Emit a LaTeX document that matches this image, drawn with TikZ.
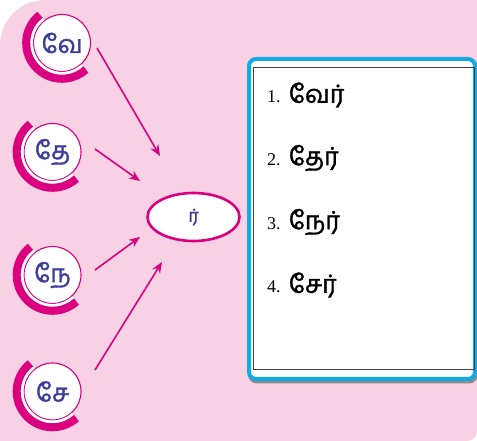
\documentclass[tikz,border=0pt]{standalone}
\usepackage{fontspec}
\setmainfont{Liberation Serif}
\newfontfamily\tamil[Script=Tamil,FakeBold=1.4]{Hind Madurai}
\usetikzlibrary{arrows.meta,shapes.geometric}
\definecolor{bgpink}{RGB}{248,210,228}
\definecolor{mag}{RGB}{218,0,128}
\definecolor{boxblue}{RGB}{20,170,228}
\definecolor{letterblue}{RGB}{60,62,155}
\begin{document}
\begin{tikzpicture}[x=1pt,y=1pt,
 letter/.style={circle, draw=mag, line width=1.1pt, fill=white, minimum size=57pt, inner sep=0pt, text=letterblue, font=\tamil\fontsize{25}{27}\selectfont},
 ring/.style={mag, line width=8pt},
 gapring/.style={white, line width=2.8pt},
 arr/.style={mag, line width=1.6pt, -{Stealth[length=11pt,width=9pt]}},
 item/.style={anchor=west, inner sep=0pt, font=\fontsize{18}{20}\selectfont}]
\useasboundingbox (0,0) rectangle (477,441);
\fill[bgpink] (0,0) -- (0,396) arc[start angle=180,end angle=90,radius=45] -- (477,441) -- (477,10) arc[start angle=0,end angle=-90,radius=10] -- cycle;
% letter circles
\node[letter] (ve) at (62,398) {வே};
\node[letter] (the) at (52.5,289) {தே};
\node[letter] (ne) at (52.5,166) {நே};
\node[letter] (se) at (52.5,49.5) {சே};
\foreach \c in {ve,the,ne,se}{
  \draw[gapring] ([shift={(128:30.4)}]\c.center) arc[start angle=128,end angle=312,radius=30.4];
  \draw[ring] ([shift={(128:35.8)}]\c.center) arc[start angle=128,end angle=312,radius=35.8];
}
% centre ellipse
\node[ellipse, draw=mag, line width=2.6pt, fill=white, minimum width=92pt, minimum height=48pt, inner sep=0pt, text=letterblue, font=\tamil\fontsize{18}{20}\selectfont] (r) at (193.5,224) {ர்};
% arrows
\coordinate (s1) at (97,393); \coordinate (e1) at (160,285);
\coordinate (s2) at (95,292); \coordinate (e2) at (140,260);
\coordinate (s3) at (95,171); \coordinate (e3) at (140,204);
\coordinate (s4) at (95,71);  \coordinate (e4) at (162,179);
\draw[arr] (s1) -- (e1);
\draw[arr] (s2) -- (e2);
\draw[arr] (s3) -- (e3);
\draw[arr] (s4) -- (e4);
% answer box
\draw[black!45, line width=4pt, rounded corners=7pt] (250,59.5) rectangle (476,380);
\draw[boxblue, line width=4pt, fill=white, rounded corners=7pt] (249,62) rectangle (475,382);
\node[draw=black!75, line width=1.2pt, inner sep=0pt, minimum width=221.5pt, minimum height=302.5pt, anchor=south west] (list) at (252.5,70.5) {};
\node[item] (i1) at (267,346) {1.\hspace{8pt}{\tamil\fontsize{25}{27}\selectfont வேர்}};
\node[item] (i2) at (267,283) {2.\hspace{8pt}{\tamil\fontsize{25}{27}\selectfont தேர்}};
\node[item] (i3) at (267,219) {3.\hspace{8pt}{\tamil\fontsize{25}{27}\selectfont நேர்}};
\node[item] (i4) at (267,156) {4.\hspace{8pt}{\tamil\fontsize{25}{27}\selectfont சேர்}};
\end{tikzpicture}
\end{document}
